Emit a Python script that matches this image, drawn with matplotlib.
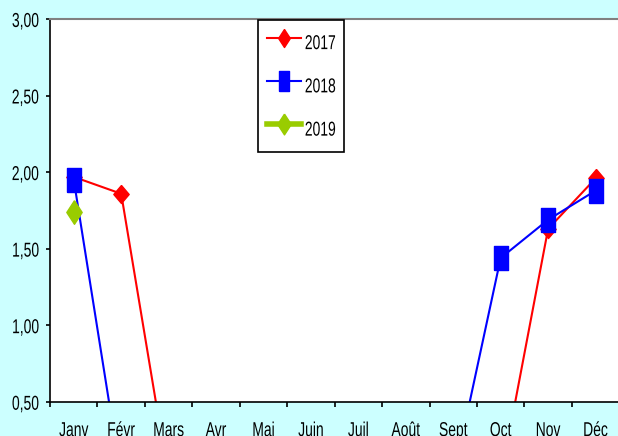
import numpy as np
import matplotlib.pyplot as plt
from matplotlib.ticker import FuncFormatter, FixedLocator
from matplotlib.patheffects import AbstractPathEffect
from matplotlib.transforms import Affine2D
from matplotlib.legend_handler import HandlerLine2D

plt.rcParams['font.family'] = ['Liberation Sans', 'DejaVu Sans']

months = ['Janv', 'Févr', 'Mars', 'Avr', 'Mai', 'Juin',
          'Juil', 'Août', 'Sept', 'Oct', 'Nov', 'Déc']
v2017 = [1.97, 1.86, 0, 0, 0, 0, 0, 0, 0, 0, 1.63, 1.96]
v2018 = [1.95, 0, 0, 0, 0, 0, 0, 0, 0, 1.44, 1.69, 1.88]
v2019 = [1.74, np.nan, np.nan, np.nan, np.nan, np.nan,
         np.nan, np.nan, np.nan, np.nan, np.nan, np.nan]


class Stretch(AbstractPathEffect):
    # the source picture has tall, narrow lettering: stretch glyphs vertically
    def __init__(self, sy=1.45):
        super().__init__()
        self.sy = sy

    def draw_path(self, renderer, gc, tpath, affine, rgbFace=None):
        tr = Affine2D().translate(0, -36).scale(1, self.sy).translate(0, 36) + affine
        renderer.draw_path(gc, tpath, tr, rgbFace)


diamond_r = [(0, 1), (0.85, 0), (0, -1), (-0.85, 0), (0, 1)]
diamond_g = [(0, 1), (0.65, 0), (0, -1), (-0.65, 0), (0, 1)]
rect = [(-0.62, -1), (0.62, -1), (0.62, 1), (-0.62, 1), (-0.62, -1)]
rect_leg = [(-0.5, -1), (0.5, -1), (0.5, 1), (-0.5, 1), (-0.5, -1)]

fig = plt.figure(figsize=(6.18, 4.36), dpi=100, facecolor='#CCFFFF')
ax = fig.add_axes([0.081, 0.078, 0.921, 0.878])
ax.set_facecolor('white')

x = np.arange(len(months))
l17, = ax.plot(x, v2017, color='#FF0000', lw=1.5, marker=diamond_r, ms=13,
               mec='#FF0000', mfc='#FF0000', label='2017')
l18, = ax.plot(x, v2018, color='#0000FF', lw=1.5, marker=rect, ms=17,
               mec='#0000FF', mfc='#0000FF', label='2018')
l19, = ax.plot(x, v2019, color='#99CC00', lw=4, marker=diamond_g, ms=17,
               mec='#99CC00', mfc='#99CC00', label='2019')

ax.set_xlim(-0.5, 11.5)
ax.set_ylim(0.5, 3.0)
ax.set_yticks(np.arange(0.5, 3.01, 0.5))
ax.yaxis.set_major_formatter(FuncFormatter(lambda v, p: f'{v:.2f}'.replace('.', ',')))

ax.set_xticks(x)
ax.set_xticklabels(months)
ax.xaxis.set_minor_locator(FixedLocator(np.arange(-0.5, 11.6, 1)))
ax.tick_params(axis='x', which='major', length=0, pad=15, labelsize=10)
ax.tick_params(axis='x', which='minor', length=3.5, width=1.2, direction='out')
ax.tick_params(axis='y', length=3, width=1.2, pad=5, labelsize=10)

ax.spines['left'].set_linewidth(1.2)
ax.spines['bottom'].set_linewidth(1.2)
ax.spines['top'].set_color('#808080')
ax.spines['top'].set_linewidth(1.5)
ax.spines['right'].set_visible(False)


# smaller, narrower markers in the legend
def leg_marker(marker, size):
    def upd(legline, orig):
        legline.update_from(orig)
        legline.set_marker(marker)
        legline.set_markersize(size)
    return HandlerLine2D(update_func=upd)


leg = fig.legend(handles=[l17, l18, l19], loc='upper left',
                 bbox_to_anchor=(0.418, 0.954), fontsize=10,
                 handlelength=2.45, handleheight=2.8, labelspacing=1.05,
                 borderpad=0.6, handletextpad=0.3, borderaxespad=0,
                 fancybox=False, edgecolor='black', framealpha=1,
                 handler_map={l17: leg_marker(diamond_g, 13),
                              l18: leg_marker(rect_leg, 14),
                              l19: leg_marker(diamond_g, 15)})
leg.get_frame().set_linewidth(1.2)

for t in (ax.get_xticklabels() + ax.get_yticklabels() + leg.get_texts()):
    t.set_path_effects([Stretch()])

fig.savefig('out.png', dpi=100, facecolor=fig.get_facecolor())
